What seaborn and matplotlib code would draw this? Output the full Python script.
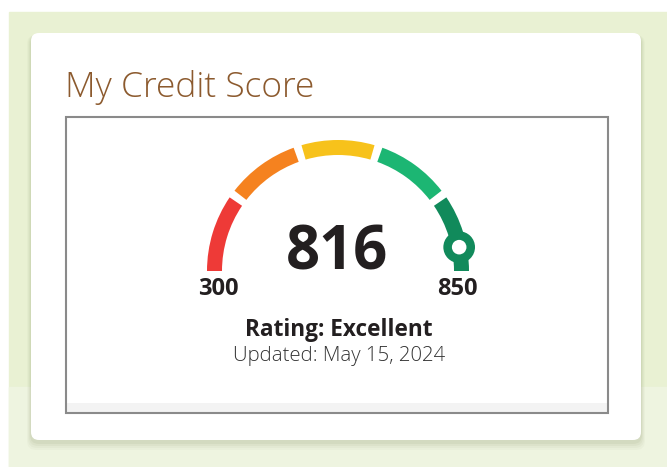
import numpy as np
import seaborn as sns
import matplotlib.pyplot as plt
from matplotlib.patches import Wedge, FancyBboxPatch, Rectangle

# data
title = "My Credit Score"
score_min, score_max = 300, 850
score = 816
band_edges = [300, 410, 520, 630, 740, 850]
band_colors = ["#ee3a37", "#f5821f", "#f7c21b", "#1cb673", "#118a5b"]
rating = "Rating: Excellent"
updated = "Updated: May 15, 2024"

sns.set_theme(style="white")
plt.rcParams['font.family'] = ['Open Sans', 'DejaVu Sans']

W, H = 667, 467
def Y(y):
    # picture rows run downwards, axes y runs upwards
    return H - y

fig = plt.figure(figsize=(W / 100, H / 100), dpi=100)
ax = fig.add_axes([0, 0, 1, 1])
ax.set_xlim(0, W)
ax.set_ylim(0, H)
ax.set_axis_off()

# page background
ax.add_patch(Rectangle((9, Y(467)), W - 9, 455, color="#e9f1d3", zorder=0))
ax.add_patch(Rectangle((9, Y(467)), W - 9, 80, color="#eef4e0", zorder=0))

# card with a soft shadow
for k, a in zip(range(8, 0, -2), [0.05, 0.07, 0.09, 0.12]):
    ax.add_patch(FancyBboxPatch((31 - k / 2, Y(442) - k), 610 + k, 407 + k,
                                boxstyle="round,pad=0,rounding_size=9",
                                fc="#9aa57a", ec="none", alpha=a, zorder=1))
ax.add_patch(FancyBboxPatch((31, Y(440)), 610, 407,
                            boxstyle="round,pad=0,rounding_size=8",
                            fc="white", ec="none", zorder=2))

ax.text(65, Y(97), title, fontsize=25.5, color="#8c5a2e", fontweight="light",
        ha="left", va="baseline", zorder=3)

# inner framed box
ax.add_patch(Rectangle((66, Y(413)), 542, 10, fc="#f3f3f3", ec="none", zorder=3))
ax.add_patch(Rectangle((66, Y(413)), 542, 296, fc="none", ec="#8a8a8a", lw=1.5, zorder=4))

# gauge
cx, cy = 338, Y(271)
r_out, band_w = 131, 15
gap = 3.6

def to_angle(s):
    return 180.0 * (score_max - s) / (score_max - score_min)

for i, c in enumerate(band_colors):
    a_hi = to_angle(band_edges[i])
    a_lo = to_angle(band_edges[i + 1])
    if i > 0:
        a_hi -= gap / 2
    if i < len(band_colors) - 1:
        a_lo += gap / 2
    ax.add_patch(Wedge((cx, cy), r_out, a_lo, a_hi, width=band_w, fc=c, ec="none", zorder=5))

r_mid = r_out - band_w / 2
t = np.deg2rad(to_angle(score))
mx, my = cx + r_mid * np.cos(t), cy + r_mid * np.sin(t)
sns.scatterplot(x=[mx], y=[my], s=520, color=band_colors[-1], edgecolor="none", ax=ax, zorder=6)
sns.scatterplot(x=[mx], y=[my], s=110, color="white", edgecolor="none", ax=ax, zorder=7)

ax.text(337, Y(254), str(score), fontsize=43, fontweight="bold", color="#231f20",
        ha="center", va="center", zorder=6)
ax.text(218, Y(289), str(score_min), fontsize=17, fontweight="bold", color="#231f20",
        ha="center", va="center", zorder=6)
ax.text(457, Y(289), str(score_max), fontsize=17, fontweight="bold", color="#231f20",
        ha="center", va="center", zorder=6)
ax.text(339, Y(330), rating, fontsize=16.3, fontweight="bold", color="#231f20",
        ha="center", va="center", zorder=6)
ax.text(339, Y(356), updated, fontsize=14.7, fontweight="light", color="#333333",
        ha="center", va="center", zorder=6)

fig.savefig("out.png", dpi=100)
